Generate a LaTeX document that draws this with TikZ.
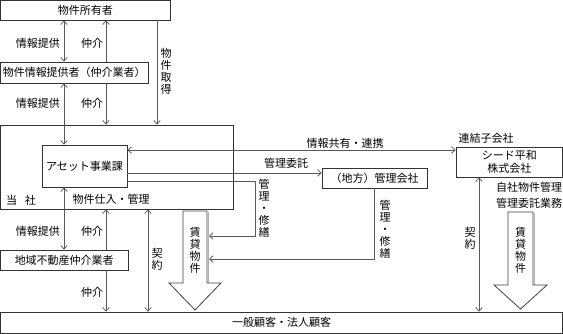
\documentclass[tikz,border=0pt]{standalone}
\usepackage{fontspec}
\setmainfont{Noto Sans CJK JP}
\usetikzlibrary{arrows.meta}

\tikzset{
  box/.style={draw=black!80, fill=white, inner sep=0pt, line width=0.8pt},
  lbl/.style={inner sep=0pt},
  vtext/.style={inner sep=0pt, align=center},
  conn/.style={draw=black!65, line width=0.8pt},
  bigarrow/.style={draw=black!75, fill=white, line width=0.8pt, line join=miter},
  shade/.style={draw=black!30, line width=0.8pt},
}

\begin{document}
\begin{tikzpicture}[x=1pt, y=-1pt, font=\fontsize{11}{12}\selectfont,
    >={Straight Barb[length=3.5pt,width=6.5pt]}]
        \useasboundingbox (0, 0) rectangle (563, 334);

        % Columns of the vertical connectors
        \coordinate (c1) at (64, 0);
        \coordinate (c2) at (106, 0);
        \coordinate (c3) at (157, 0);
        \coordinate (c4) at (148, 0);
        \coordinate (c5) at (479, 0);

        % Boxes
        \node[box, minimum width=169.5, minimum height=19.5] (owner) at (85.25, 10.25) {物件所有者};
        \node[box, minimum width=147.5, minimum height=21] (provider) at (74.25, 72.5) {物件情報提供者（仲介業者）};
        \node[box, minimum width=232.5, minimum height=84] (company) at (116.75, 167) {};
        \node[box, minimum width=85, minimum height=42] (asset) at (84.5, 166) {アセット事業課};
        \node[box, minimum width=105, minimum height=20] (local) at (374.5, 178) {（地方）管理会社};
        \node[box, minimum width=106.5, minimum height=30, align=center] (seed) at (509.25, 162) {シード平和\\[1pt]株式会社};
        \node[box, minimum width=127.5, minimum height=20] (broker) at (64.25, 260) {地域不動産仲介業者};
        \node[box, minimum width=562, minimum height=21.5] (customer) at (281.5, 322.75) {一般顧客・法人顧客};

        % Big arrows: rental properties
        \draw[shade] (208.6, 212.5) -- (208.6, 283);
        \draw[bigarrow] (183, 211) -- (207, 211) -- (207, 283) -- (221, 283) -- (195, 310)
            -- (169, 283) -- (183, 283) -- cycle;
        \draw[shade] (534.6, 213.5) -- (534.6, 285);
        \draw[bigarrow] (508, 212) -- (533, 212) -- (533, 285) -- (547, 285) -- (520.5, 309)
            -- (494, 285) -- (508, 285) -- cycle;
        \coordinate (lshaft) at (209, 0);
        \node[vtext] (lrent) at (195, 250) {賃\\貸\\物\\件};
        \node[vtext] (rrent) at (520.5, 250) {賃\\貸\\物\\件};

        % Upper part: owner, provider, company
        \draw[conn, <->] (owner.south -| c1) -- (provider.north -| c1);
        \draw[conn, <-] (owner.south -| c2) -- (provider.north -| c2);
        \draw[conn, ->] (provider.south -| c2) -- (company.north -| c2);
        \draw[conn, ->] (owner.south -| c3) -- (company.north -| c3);
        \draw[conn, <->] (provider.south -| c1) -- (asset.north -| c1);
        \node[lbl] (info1) at (38, 43) {情報提供};
        \node[lbl] (med1) at (92, 43) {仲介};
        \node[lbl] (info2) at (38, 103) {情報提供};
        \node[lbl] (med2) at (92, 103) {仲介};
        \node[vtext] (acq) at (166, 71) {物\\件\\取\\得};
        \node[lbl] (self) at (21, 200) {当\hspace{0.7em}社};
        \node[lbl] (purch) at (111, 199) {物件仕入・管理};

        % Asset division to the right
        \draw[conn, <->] (asset.east |- 0, 150) -- (seed.west |- 0, 150);
        \draw[conn, ->] (asset.east |- 0, 173) -- (local.west |- 0, 173);
        \draw[conn, ->] (asset.east |- 0, 181) -- (255, 181) -- (255, 236) -- (lshaft |- 0, 236);
        \draw[conn, ->] (local.south) -- (local.south |- 0, 259) -- (lshaft |- 0, 259);
        \node[lbl] (share) at (345, 143) {情報共有・連携};
        \node[lbl] (entrust) at (286, 163) {管理委託};
        \node[vtext] (repair1) at (264, 208) {管\\理\\・\\修\\繕};
        \node[vtext] (repair2) at (385, 229) {管\\理\\・\\修\\繕};

        % Subsidiary
        \node[lbl] (sub) at (486, 138) {連結子会社};
        \node[lbl, align=center] (task) at (529, 195) {自社物件管理\\[4pt]管理委託業務};
        \draw[conn, <->] (seed.south -| c5) -- (customer.north -| c5);
        \node[vtext] (con2) at (470, 238) {契\\約};

        % Lower part: broker and customers
        \draw[conn, <->] (asset.south -| c1) -- (broker.north -| c1);
        \draw[conn, <-] (company.south -| c2) -- (broker.north -| c2);
        \draw[conn, ->] (broker.south -| c2) -- (customer.north -| c2);
        \draw[conn, <->] (company.south -| c4) -- (customer.north -| c4);
        \node[lbl] (info3) at (38, 231) {情報提供};
        \node[lbl] (med3) at (92, 231) {仲介};
        \node[lbl] (med4) at (92, 292) {仲介};
        \node[vtext] (con1) at (157, 259) {契\\約};
    \end{tikzpicture}
\end{document}
